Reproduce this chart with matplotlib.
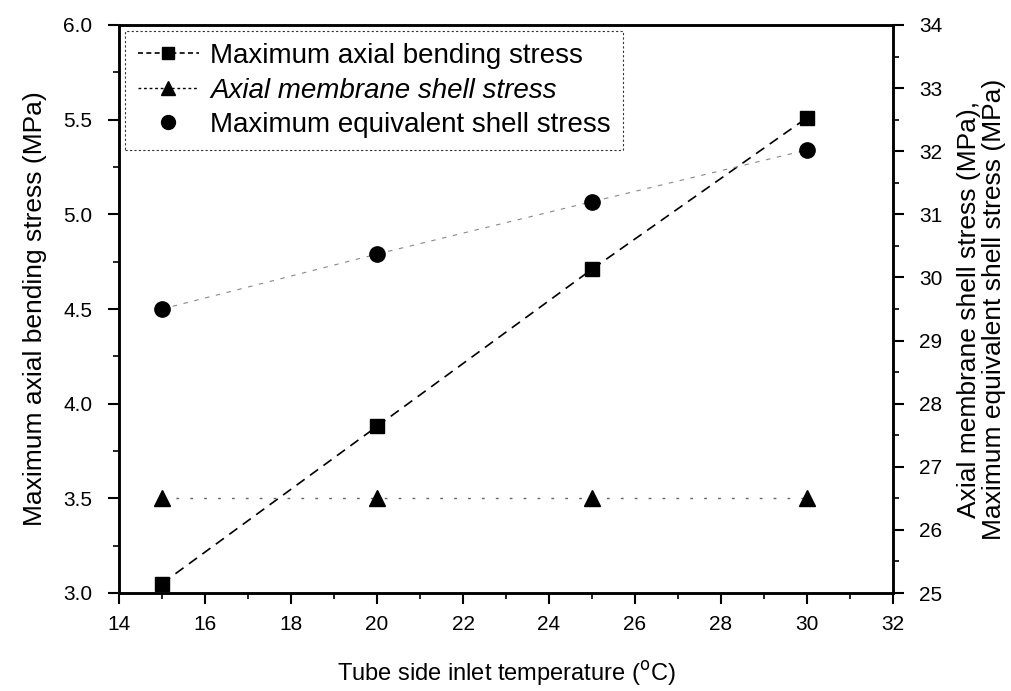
import numpy as np
import matplotlib
matplotlib.use('Agg')
from matplotlib import pyplot as plt
from matplotlib.ticker import MultipleLocator, FormatStrFormatter
from matplotlib.lines import Line2D

plt.rcParams['font.family'] = ['Liberation Sans', 'DejaVu Sans']

# data
temp = [15, 20, 25, 30]
bending = [3.05, 3.88, 4.71, 5.51]          # left axis, MPa
membrane = [26.5, 26.5, 26.5, 26.5]         # right axis, MPa
equivalent = [29.5, 30.37, 31.2, 32.02]     # right axis, MPa

W, H = 1011, 691
left, right, top, bottom = 119, 893, 25, 593
fig = plt.figure(figsize=(W / 100, H / 100), dpi=100)
ax = fig.add_axes([left / W, 1 - bottom / H, (right - left) / W, (bottom - top) / H])
ax2 = ax.twinx()

ax.plot(temp, bending, color='black', ls=(0, (6, 4)), lw=1.2,
        marker='s', ms=10)
ax2.plot(temp, membrane, color='#666666', ls=(0, (2, 8)), lw=1.0,
         marker='^', ms=11, mfc='black', mec='black')
ax2.plot(temp, equivalent, color='#888888', ls=(0, (4, 6)), lw=0.8)
ax2.plot(temp, equivalent, ls='none', color='black', marker='o', ms=11)

ax.set_xlim(14, 32)
ax.set_ylim(3.0, 6.0)
ax2.set_ylim(25, 34)
ax.xaxis.set_major_locator(MultipleLocator(2))
ax.xaxis.set_minor_locator(MultipleLocator(1))
ax.yaxis.set_major_locator(MultipleLocator(0.5))
ax.yaxis.set_minor_locator(MultipleLocator(0.25))
ax2.yaxis.set_major_locator(MultipleLocator(1))
ax2.yaxis.set_minor_locator(MultipleLocator(0.5))
ax.yaxis.set_major_formatter(FormatStrFormatter('%.1f'))

for a in (ax, ax2):
    a.tick_params(which='major', direction='out', length=8, width=1.5,
                  labelsize=15, pad=11)
    a.tick_params(which='minor', direction='out', length=4, width=1.2)
    for s in a.spines.values():
        s.set_linewidth(1.8)
ax.tick_params(axis='x', which='major', pad=8)

ax.set_xlabel('Tube side inlet temperature ($^{\\rm o}$C)', fontsize=17, labelpad=18)
ax.set_ylabel('Maximum axial bending stress (MPa)', fontsize=19, labelpad=12)
ax2.set_ylabel('Axial membrane shell stress (MPa),\nMaximum equivalent shell stress (MPa)',
               fontsize=19, labelpad=10, linespacing=1.05)

handles = [
    Line2D([], [], color='black', ls=(0, (3, 2)), lw=1.2, marker='s', ms=9),
    Line2D([], [], color='black', ls=(0, (2, 2)), lw=1.0, marker='^', ms=10),
    Line2D([], [], color='black', ls='none', marker='o', ms=10),
]
labels = ['Maximum axial bending stress', 'Axial membrane shell stress',
          'Maximum equivalent shell stress']
leg = ax.legend(handles, labels, loc='upper left', bbox_to_anchor=(0.008, 0.99),
                fontsize=20, frameon=True, fancybox=False, borderaxespad=0.0,
                handlelength=2.2, handletextpad=0.4, labelspacing=0.3,
                borderpad=0.45)
leg.get_frame().set_edgecolor('black')
leg.get_frame().set_linestyle((0, (2, 2)))
leg.get_frame().set_linewidth(0.8)
leg.get_texts()[1].set_style('italic')

fig.savefig('out.png', dpi=100)
